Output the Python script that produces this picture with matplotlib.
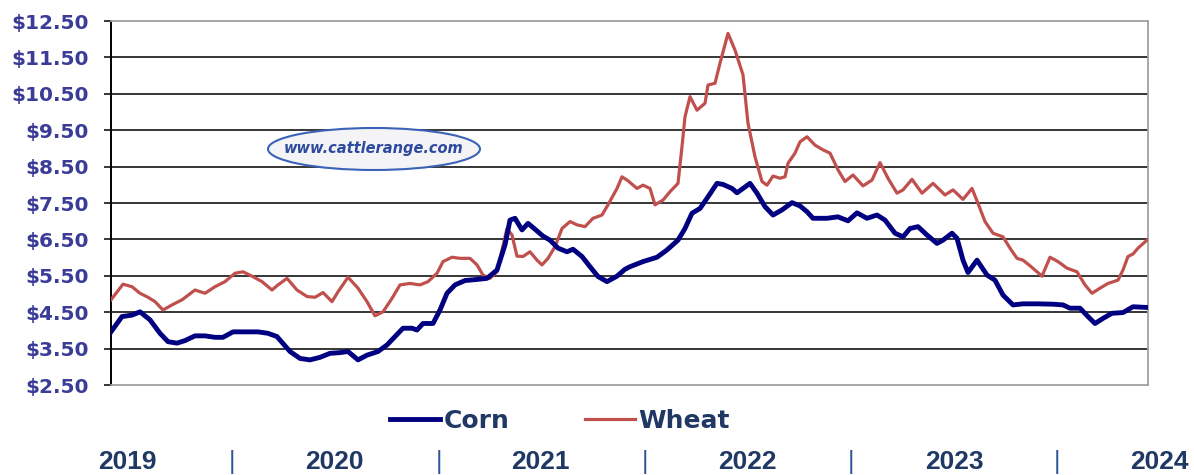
import numpy as np
import matplotlib
matplotlib.use("Agg")
import matplotlib.pyplot as plt
from matplotlib.patches import Ellipse

# weekly cash prices, x = weeks since the start of 2019
corn_week = [0, 2.75, 5.25, 7.25, 9.75, 12.25, 14.25, 16.5, 18.5, 21, 23.5, 26, 28,
             30.5, 33.5, 36.75, 39.25, 41.5, 44.75, 47.25, 49.75, 52.25, 54.75, 57.25,
             59.25, 61.75, 64, 66.75, 69, 71, 73, 75.25, 76.5, 78, 80.5, 82.25, 84, 86,
             88.5, 91.5, 94, 96.5, 98.5, 99.75, 101, 102.75, 104.25, 106, 108, 109.75,
             111.75, 114, 115.5, 117.75, 119.75, 121.75, 124, 126.5, 128.5, 129.75, 133,
             136.5, 139, 141.75, 143.5, 145.25, 147.25, 149.25, 151.5, 153, 155.25,
             156.5, 158, 159.75, 161.5, 163.5, 165.5, 167.75, 170.25, 172.25, 174,
             175.5, 179, 181.75, 184.25, 186.5, 189, 191.5, 193.5, 196, 198, 199.75,
             201.75, 204, 206.5, 208, 210.25, 211.5, 213, 214.25, 216.5, 219, 221, 223,
             225.5, 228, 231.5, 235.5, 238, 239.75, 242.25, 244.25, 246, 248, 250.25,
             253, 255.5, 259]
corn = [3.96, 4.38, 4.42, 4.51, 4.29, 3.92, 3.69, 3.65, 3.72, 3.85, 3.85, 3.81, 3.81,
        3.96, 3.96, 3.96, 3.92, 3.83, 3.42, 3.23, 3.19, 3.26, 3.37, 3.39,
        3.42, 3.19, 3.32, 3.42, 3.60, 3.83, 4.06, 4.06, 4.01, 4.19, 4.19, 4.56, 5.02, 5.25,
        5.37, 5.40, 5.43, 5.66, 6.35, 7.03, 7.08, 6.76, 6.94, 6.78, 6.59, 6.48,
        6.26, 6.16, 6.23, 6.03, 5.75, 5.48, 5.34, 5.49, 5.68, 5.75, 5.89,
        6.01, 6.21, 6.48, 6.80, 7.22, 7.35, 7.67, 8.04, 8.01, 7.90,
        7.78, 7.90, 8.04, 7.77, 7.40, 7.17, 7.31, 7.51, 7.42, 7.26,
        7.08, 7.08, 7.12, 7.01, 7.23, 7.08, 7.17, 7.03, 6.67, 6.57, 6.80,
        6.85, 6.62, 6.39, 6.48, 6.67, 6.53, 5.93, 5.59, 5.93, 5.52, 5.38, 4.97,
        4.70, 4.73, 4.73, 4.72, 4.70, 4.61, 4.61, 4.38, 4.19, 4.33, 4.47,
        4.49, 4.65, 4.63]

wheat_week = [0, 3, 5.25, 7.25, 9.25, 11, 13, 15.25, 17.75, 21, 23.5, 26, 28.5, 31, 33,
              35.25, 37.75, 40.25, 41.75, 44, 46.5, 49, 51, 53, 55.25, 56.75, 59.25,
              61.75, 64, 66, 68, 70.25, 72.25, 74.75, 77.25, 79.25, 81.5, 83, 85.25,
              87.25, 89.75, 91.5, 93, 94.75, 96.5, 97.75, 99, 100.25, 101.5, 103,
              104.75, 106.5, 107.75, 109.25, 111, 112.75, 114.75, 116.5, 118.5, 120.5,
              122.75, 124.25, 126.5, 127.75, 129.25, 131.5, 133, 134.75, 136, 138,
              139.75, 141.75, 142.75, 143.5, 144.75, 146.5, 148.5, 149.25, 151, 152.25,
              154.25, 156, 158, 159.25, 161, 162.75, 164, 165.5, 167.25, 168.5, 169.25,
              171, 172.25, 174, 176, 178, 179.75, 181.75, 183.5, 185.5, 188, 190.25,
              192.25, 194.25, 196.5, 198, 200.25, 202.75, 205.5, 208.5, 210.5, 213,
              215.25, 216.75, 218.5, 220.5, 223, 224.75, 226.5, 228, 230.25, 232.75,
              234.75, 236.75, 239, 241.5, 243.5, 245.25, 247.25, 249.25, 251.75, 253,
              254.25, 255.5, 256.75, 259]
wheat = [4.84, 5.27, 5.20, 5.02, 4.91, 4.79, 4.56, 4.70, 4.84, 5.11, 5.02, 5.20, 5.34, 5.57, 5.61,
         5.49, 5.34, 5.11, 5.25, 5.43, 5.11, 4.93, 4.91, 5.04, 4.79, 5.06, 5.46,
         5.16, 4.79, 4.40, 4.51, 4.88, 5.25, 5.29, 5.25, 5.34, 5.57, 5.89, 6.01,
         5.98, 5.98, 5.80, 5.52, 5.43, 5.61, 6.21, 6.80, 6.62, 6.04, 6.03,
         6.16, 5.93, 5.80, 5.98, 6.30, 6.80, 6.99, 6.90, 6.85, 7.08,
         7.17, 7.45, 7.90, 8.22, 8.11, 7.90, 7.99, 7.90, 7.45, 7.58,
         7.81, 8.04, 9.05, 9.87, 10.42, 10.05, 10.24, 10.74, 10.79, 11.34,
         12.16, 11.70, 11.02, 9.69, 8.77, 8.09, 7.99, 8.24, 8.18, 8.22, 8.59,
         8.87, 9.18, 9.32, 9.09, 8.96, 8.87, 8.41, 8.09, 8.27, 7.97, 8.13,
         8.61, 8.18, 7.77, 7.86, 8.15, 7.77, 8.04, 7.72, 7.86, 7.60,
         7.90, 7.49, 6.99, 6.67, 6.57, 6.26, 5.98, 5.93, 5.73, 5.49,
         6.01, 5.89, 5.71, 5.61, 5.25, 5.02, 5.16, 5.29, 5.38, 5.66,
         6.03, 6.10, 6.26, 6.48]

years = ["2019", "2020", "2021", "2022", "2023", "2024"]
price_ticks = np.arange(2.5, 12.51, 1.0)

label_col = "#3B3B98"
text_col = "#1F3864"

fig = plt.figure(figsize=(11.94, 4.75), dpi=100)
ax = fig.add_axes([111 / 1194, 1 - 385 / 475, 1037 / 1194, 364 / 475])

for v in price_ticks[1:-1]:
    ax.axhline(v, color="black", lw=1.1, zorder=1)

ax.plot(wheat_week, wheat, color="#C0504D", lw=2.3, label="Wheat", zorder=3)
ax.plot(corn_week, corn, color="#000080", lw=3.5, label="Corn", zorder=4)

ax.set_xlim(0, 259.25)
ax.set_ylim(2.5, 12.5)
ax.set_xticks([])
ax.set_yticks(price_ticks)
ax.set_yticklabels([f"${v:.2f}" for v in price_ticks], fontsize=14.5,
                   fontweight="bold", color=label_col)
ax.tick_params(axis="y", direction="out", length=5, width=1.1, color="black", pad=11)
ax.spines["left"].set_color("black")
ax.spines["left"].set_linewidth(1.4)
for s in ["top", "right", "bottom"]:
    ax.spines[s].set_color("#A0A0A0")
    ax.spines[s].set_linewidth(1.3)

# watermark
ell = Ellipse((374 / 1194, 1 - 149 / 475), 212 / 1194, 42 / 475,
              transform=fig.transFigure, facecolor="#F4F4F6", edgecolor="#3A62B8",
              lw=1.5, zorder=5)
fig.patches.append(ell)
fig.text(374 / 1194, 1 - 148 / 475, "www.cattlerange.com", ha="center", va="center",
         fontsize=10.5, fontweight="bold", style="italic", color="#2E4A9E", zorder=6)

handles, labels = ax.get_legend_handles_labels()
leg = fig.legend(handles[::-1], labels[::-1], loc="center",
                 bbox_to_anchor=(560 / 1194, 1 - 421 / 475), ncol=2, frameon=False,
                 handlelength=2.0, handletextpad=0.15, columnspacing=3.0,
                 prop={"size": 18, "weight": "bold"})
for t in leg.get_texts():
    t.set_color(text_col)

# year strip along the bottom
year_x = [127, 334, 540, 747, 954, 1159]
for x, y in zip(year_x, years):
    fig.text(x / 1194, 1 / 475, y, ha="center", va="bottom", fontsize=19,
             fontweight="bold", color=text_col, family="Liberation Sans")
for x in [232, 439, 645, 851, 1057]:
    fig.text(x / 1194, 1 / 475, "|", ha="center", va="bottom", fontsize=18,
             color="#2F5597", family="Liberation Sans")

fig.savefig("out.png", dpi=100)
